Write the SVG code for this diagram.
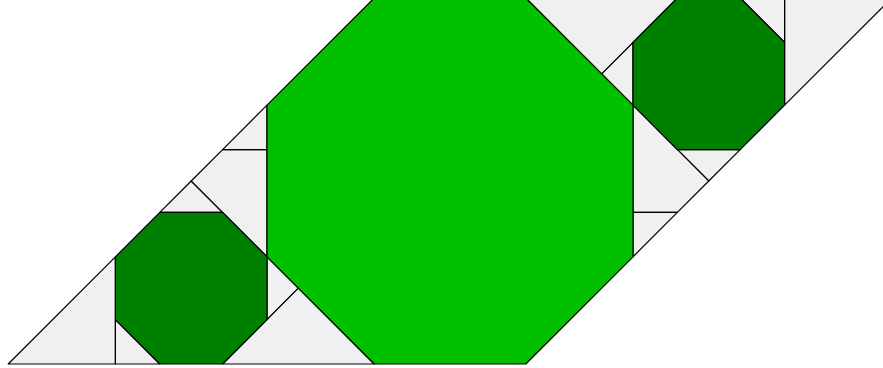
<svg xmlns="http://www.w3.org/2000/svg" width="883" height="368" viewBox="0 0 883 368">
<style>
.t{fill:#f0f0f0;stroke:#000;stroke-width:1.2;stroke-linejoin:round}
.big{fill:#00c000;stroke:#000;stroke-width:1.2;stroke-linejoin:round}
.sm{fill:#008000;stroke:#000;stroke-width:1.2;stroke-linejoin:round}
</style>
<rect width="883" height="368" fill="#fff"/>
<g id="tiles">
<polygon class="t" points="8.2,364 115.4,256.8 115.4,364"/>
<polygon class="t" points="115.4,319.6 159.8,364 115.4,364"/>
<polygon class="t" points="159.8,212.4 191.2,181 222.6,212.4"/>
<polygon class="t" points="191.2,181 222.6,149.6 267,149.6 267,256.8"/>
<polygon class="t" points="222.6,149.6 267,105.2 267,149.6"/>
<polygon class="t" points="267,256.8 298.4,288.2 267,319.6"/>
<polygon class="t" points="222.6,364 298.4,288.2 374.2,364"/>
<polygon class="t" points="891.8,-2 784.6,105.2 784.6,-2"/>
<polygon class="t" points="784.6,42.4 740.2,-2 784.6,-2"/>
<polygon class="t" points="740.2,149.6 677.4,149.6 708.8,181"/>
<polygon class="t" points="708.8,181 677.4,212.4 633,212.4 633,105.2"/>
<polygon class="t" points="677.4,212.4 633,256.8 633,212.4"/>
<polygon class="t" points="633,105.2 601.6,73.8 633,42.4"/>
<polygon class="t" points="677.4,-2 601.6,73.8 525.8,-2"/>
</g>
<g id="big-octagon">
<polygon class="big" points="374.2,-2 525.8,-2 633,105.2 633,256.8 525.8,364 374.2,364 267,256.8 267,105.2"/>
</g>
<g id="small-octagon-bl">
<polygon class="sm" points="159.8,212.4 222.6,212.4 267,256.8 267,319.6 222.6,364 159.8,364 115.4,319.6 115.4,256.8"/>
</g>
<g id="small-octagon-tr">
<polygon class="sm" points="677.4,-2 740.2,-2 784.6,42.4 784.6,105.2 740.2,149.6 677.4,149.6 633,105.2 633,42.4"/>
</g>
</svg>
